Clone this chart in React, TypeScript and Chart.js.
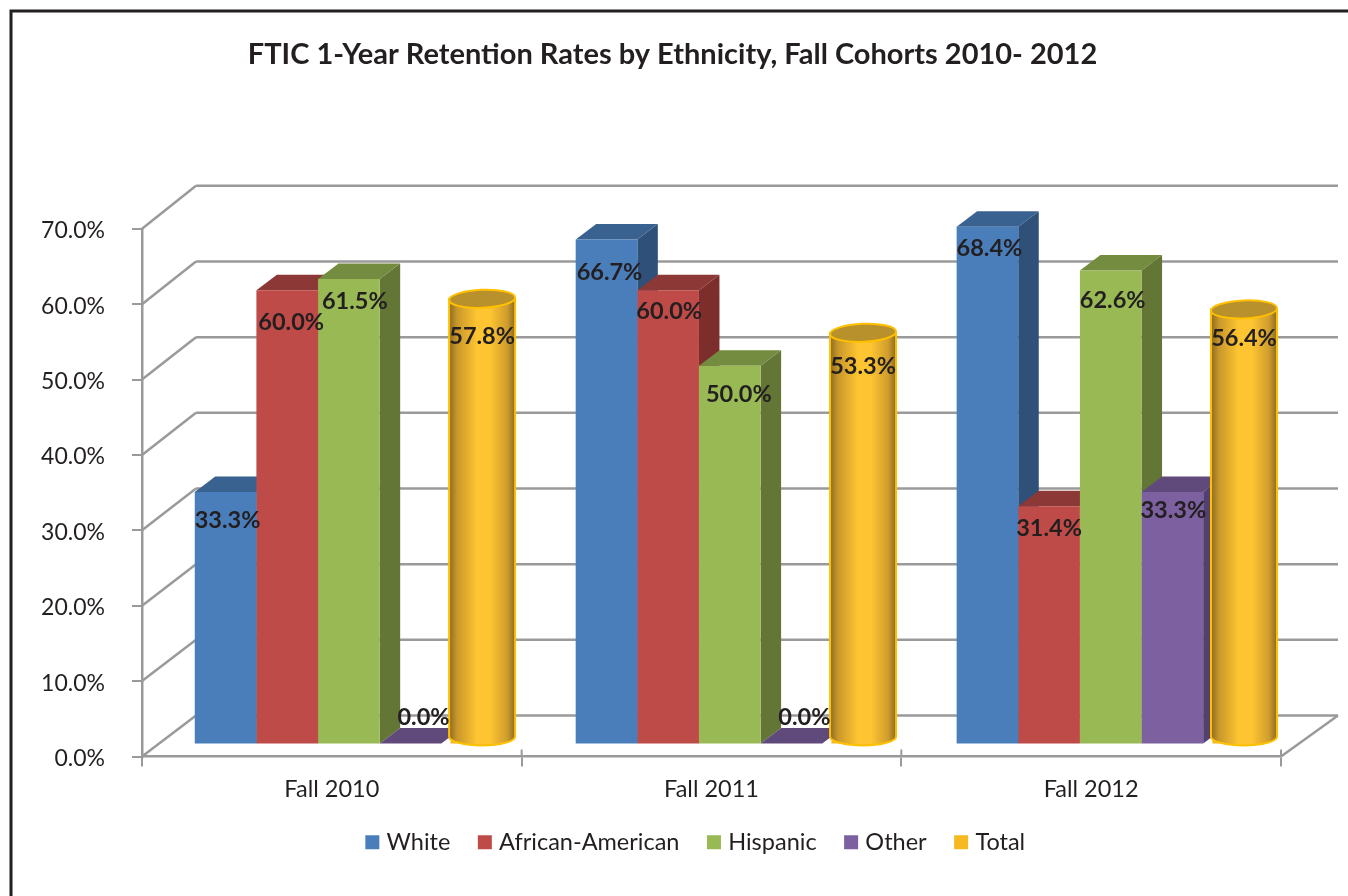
import { useEffect, useRef } from "react";
import { Chart, registerables } from "chart.js";

Chart.register(...registerables);

const categories = ["Fall 2010", "Fall 2011", "Fall 2012"];
const seriesNames = ["White", "African-American", "Hispanic", "Other", "Total"];
const white = [33.3, 66.7, 68.4];
const africanAmerican = [60.0, 60.0, 31.4];
const hispanic = [61.5, 50.0, 62.6];
const other = [0.0, 0.0, 33.3];
const total = [57.8, 53.3, 56.4];
const yTicks = [0, 10, 20, 30, 40, 50, 60, 70];

const seriesValues = [white, africanAmerican, hispanic, other, total];
const frontColors = ["#4a7ebb", "#be4b48", "#98b954", "#7d60a0", "#f6b922"];
const sideColors = ["#2f5078", "#7b2e2c", "#637636", "#533f70", "#000"];
const topColors = ["#3a6290", "#8c3836", "#738c3f", "#604a7b", "#000"];

// label placement relative to each bar's top, [dx, dy] by series then category
const labelOffsets = [
  [[2, 29], [3, 33], [2, 22]],
  [[4, 32], [1, 21], [0, 22]],
  [[6, 23], [9, 29], [2, 30]],
  [[13, -26], [13, -26], [1, 19]],
  [[0, 30], [0, 26], [0, 21]],
];

const FONT = "Lato, 'Liberation Sans', sans-serif";
const INK = "#231f20";
const AXIS = "#9a9a9a";
const DEPTH_X = 20.5;
const DEPTH_Y = 15.5;
const WALL_LEFT = 54;
const WALL_RIGHT = 57;
const WALL_Y_BOTTOM = 41;
const WALL_Y_TOP = 43;
const CYL_SHIFT = 10;
const CYL_RX = 33;
const CYL_RY = 9;
const LEGEND_SHIFT = 57;
const TITLE_SHIFT = 32;

const poly = (ctx: CanvasRenderingContext2D, pts: number[][], fill: string) => {
  ctx.beginPath();
  pts.forEach(([x, y], i) => (i ? ctx.lineTo(x, y) : ctx.moveTo(x, y)));
  ctx.closePath();
  ctx.fillStyle = fill;
  ctx.fill();
};

const line = (ctx: CanvasRenderingContext2D, a: number[], b: number[]) => {
  ctx.beginPath();
  ctx.moveTo(a[0], a[1]);
  ctx.lineTo(b[0], b[1]);
  ctx.stroke();
};

const frame3d = {
  id: "frame3d",
  afterLayout(chart: any) {
    chart.legend.left += LEGEND_SHIFT;
    chart.legend.right += LEGEND_SHIFT;
    chart.titleBlock.left += TITLE_SHIFT;
    chart.titleBlock.right += TITLE_SHIFT;
  },
  beforeDraw(chart: any) {
    const { ctx } = chart;
    ctx.save();
    ctx.fillStyle = "#ffffff";
    ctx.fillRect(0, 0, chart.width, chart.height);
    ctx.strokeStyle = INK;
    ctx.lineWidth = 3;
    ctx.beginPath();
    ctx.moveTo(11, chart.height);
    ctx.lineTo(11, 11);
    ctx.lineTo(chart.width, 11);
    ctx.stroke();
    ctx.restore();
  },
  beforeDatasetsDraw(chart: any) {
    const { ctx, chartArea, scales } = chart;
    const { left, right, bottom } = chartArea;
    ctx.save();
    ctx.strokeStyle = AXIS;
    ctx.lineWidth = 2.5;
    yTicks.forEach((v, i) => {
      const y = scales.y.getPixelForValue(v);
      const dy = WALL_Y_BOTTOM + ((WALL_Y_TOP - WALL_Y_BOTTOM) * i) / (yTicks.length - 1);
      line(ctx, [left, y], [left + WALL_LEFT, y - dy]);
      line(ctx, [left + WALL_LEFT, y - dy], [right + WALL_RIGHT, y - dy]);
    });
    line(ctx, [right, bottom], [right + WALL_RIGHT, bottom - WALL_Y_BOTTOM]);
    ctx.lineWidth = 2;
    [1, 2, 3].forEach((i) => {
      const x = left + ((right - left) * i) / 3;
      line(ctx, [x, bottom], [x, bottom - 7]);
    });
    ctx.restore();

    ctx.save();
    for (let s = 0; s < 4; s++) {
      chart.getDatasetMeta(s).data.forEach((bar: any) => {
        const { x, y, width, base } = bar.getProps(["x", "y", "width", "base"], true);
        const l = x - width / 2;
        const r = x + width / 2;
        poly(ctx, [[r, y], [r + DEPTH_X, y - DEPTH_Y], [r + DEPTH_X, base - DEPTH_Y], [r, base]], sideColors[s]);
        poly(ctx, [[l, y], [l + DEPTH_X, y - DEPTH_Y], [r + DEPTH_X, y - DEPTH_Y], [r, y]], topColors[s]);
      });
    }
    ctx.restore();
  },
  afterDatasetsDraw(chart: any) {
    const { ctx } = chart;
    ctx.save();
    chart.getDatasetMeta(4).data.forEach((bar: any) => {
      const { x, y, base } = bar.getProps(["x", "y", "base"], true);
      const cx = x + CYL_SHIFT;
      const topY = y - 8;
      const botY = base - 7;
      const g = ctx.createLinearGradient(cx - CYL_RX, 0, cx + CYL_RX, 0);
      g.addColorStop(0, "#8a6a24");
      g.addColorStop(0.12, "#c9972a");
      g.addColorStop(0.42, "#fec431");
      g.addColorStop(0.62, "#fec431");
      g.addColorStop(0.88, "#cf9d2c");
      g.addColorStop(1, "#8a6a24");
      ctx.beginPath();
      ctx.moveTo(cx - CYL_RX, topY);
      ctx.lineTo(cx - CYL_RX, botY);
      ctx.ellipse(cx, botY, CYL_RX, CYL_RY, 0, Math.PI, 0, true);
      ctx.lineTo(cx + CYL_RX, topY);
      ctx.closePath();
      ctx.fillStyle = g;
      ctx.fill();
      ctx.strokeStyle = "#ffc000";
      ctx.lineWidth = 2;
      ctx.stroke();
      ctx.beginPath();
      ctx.ellipse(cx, topY, CYL_RX, CYL_RY, -0.04, 0, Math.PI * 2);
      ctx.fillStyle = "#b8902c";
      ctx.fill();
      ctx.stroke();
    });
    ctx.fillStyle = INK;
    ctx.font = `bold 23.5px ${FONT}`;
    ctx.textAlign = "center";
    ctx.textBaseline = "middle";
    seriesValues.forEach((vals, s) => {
      chart.getDatasetMeta(s).data.forEach((bar: any, i: number) => {
        const { x, y } = bar.getProps(["x", "y"], true);
        const [dx, dy] = labelOffsets[s][i];
        const cx = s === 4 ? x + CYL_SHIFT : x;
        ctx.fillText(`${vals[i].toFixed(1)}%`, cx + dx, y + dy);
      });
    });
    ctx.restore();
  },
};

export default function App() {
  const ref = useRef<HTMLCanvasElement>(null);
  useEffect(() => {
    const chart = new Chart(ref.current as HTMLCanvasElement, {
      type: "bar",
      data: {
        labels: categories,
        datasets: seriesNames.map((label, s) => ({
          label,
          data: seriesValues[s].map((y, x) => ({ x, y })),
          xAxisID: "xBars",
          yAxisID: "yBars",
          backgroundColor: frontColors[s],
          borderWidth: 0,
          clip: false,
          barPercentage: s === 4 ? 0.7 : 1,
          categoryPercentage: 0.809,
        })),
      } as any,
      plugins: [frame3d],
      options: {
        animation: false,
        responsive: false,
        layout: { autoPadding: false, padding: { left: 0, right: 67, top: 0, bottom: 32 } },
        plugins: {
          tooltip: { enabled: false },
          title: {
            display: true,
            text: "FTIC 1-Year Retention Rates by Ethnicity, Fall Cohorts 2010- 2012",
            color: INK,
            font: { family: FONT, size: 29, weight: "bold", lineHeight: 1.2 },
            padding: { top: 37, bottom: 157 },
          },
          legend: {
            position: "bottom",
            labels: {
              color: INK,
              font: { family: FONT, size: 23.5 },
              boxWidth: 5,
              boxHeight: 5,
              padding: 32,
              generateLabels: (chart: any) =>
                chart.data.datasets.map((d: any, i: number) => ({
                  text: d.label,
                  fillStyle: frontColors[i],
                  strokeStyle: frontColors[i],
                  lineWidth: 9,
                  fontColor: INK,
                  hidden: false,
                  datasetIndex: i,
                })),
            },
          },
        },
        scales: {
          x: {
            type: "category",
            position: "bottom",
            offset: true,
            grid: { drawOnChartArea: false, offset: true, color: AXIS, lineWidth: 2, tickLength: 10 },
            border: { display: true, color: AXIS, width: 2.5 },
            ticks: { color: INK, font: { family: FONT, size: 23.5 }, padding: 9, maxRotation: 0 },
            afterFit: (s: any) => { s.height = 42; },
          },
          y: {
            type: "linear",
            position: "left",
            min: 0,
            max: 70,
            grid: { drawOnChartArea: false, color: AXIS, lineWidth: 2, tickLength: 10 },
            border: { display: true, color: AXIS, width: 2.5 },
            ticks: {
              stepSize: 10,
              color: INK,
              font: { family: FONT, size: 23 },
              padding: 27,
              labelOffset: 2,
              callback: (v: any) => `${Number(v).toFixed(1)}%`,
            },
            afterFit: (s: any) => { s.width = 142; },
          },
          xBars: {
            type: "linear",
            axis: "x",
            display: false,
            offset: false,
            min: -0.543,
            max: 2.447,
            ticks: { stepSize: 1, includeBounds: false },
          },
          yBars: { type: "linear", axis: "y", display: false, min: -1.726, max: 68.13 },
        },
      } as any,
    });
    return () => chart.destroy();
  }, []);
  return (
    <div style={{ position: "absolute", left: 0, top: 0, width: 1348, height: 896 }}>
      <canvas ref={ref} width={1348} height={896} style={{ display: "block" }} />
    </div>
  );
}
